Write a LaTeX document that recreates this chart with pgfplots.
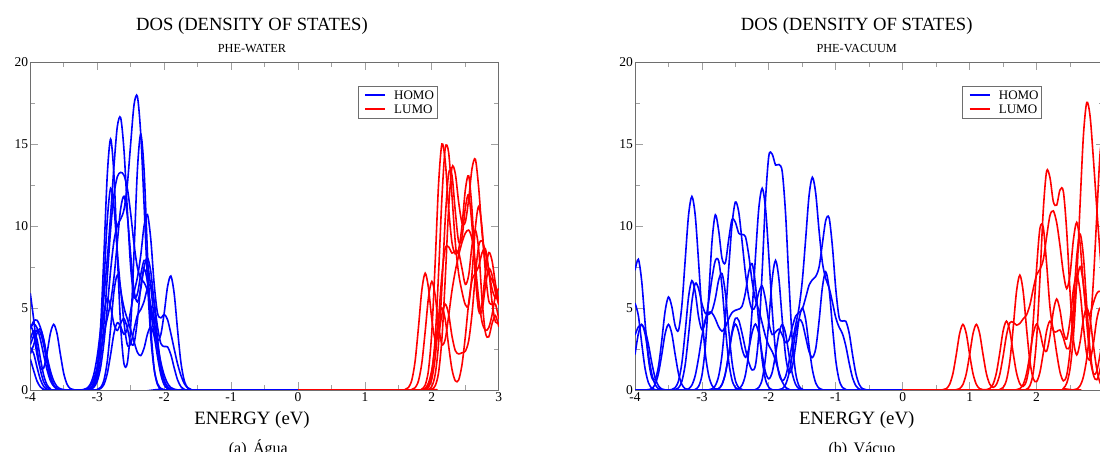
\documentclass[border=0pt]{standalone}
\usepackage{pgfplots}
\pgfplotsset{compat=1.18}
\usepackage{fontspec}
\setmainfont{Liberation Serif}

\definecolor{frame}{RGB}{110,110,110}
\definecolor{tickc}{RGB}{160,160,160}

\pgfplotsset{
  dosaxis/.style={
    scale only axis, width=468.5pt, height=328pt,
    xmin=-4, xmax=3, ymin=0, ymax=20,
    xtick={-4,-3,-2,-1,0,1,2,3}, xticklabels={-4,-3,-2,-1,0,1,2,3},
    ytick={0,5,10,15,20}, yticklabels={0,5,10,15,20},
    minor xtick={-3.5,-2.5,-1.5,-0.5,0.5,1.5,2.5},
    minor ytick={2.5,7.5,12.5,17.5},
    tick align=inside, major tick length=8pt, minor tick length=5pt,
    axis line style={draw=frame, line width=0.9pt},
    every tick/.style={tickc, line width=0.8pt},
    tick label style={font=\fontsize{13.5}{14}\selectfont},
    xticklabel style={inner sep=2pt},
    yticklabel style={inner sep=2pt},
  },
  homo/.style={blue, line width=1.6pt, smooth, forget plot},
  lumo/.style={red, line width=1.6pt, smooth, forget plot},
}

% legend box drawn at a given left edge (in pt)
\newcommand{\doslegend}[1]{%
  \draw[frame, line width=0.6pt, fill=white] (#1,366) rectangle ++(79,-32);
  \draw[blue, line width=1.6pt] (#1+7,357) -- ++(20,0);
  \draw[red, line width=1.6pt] (#1+7,343) -- ++(20,0);
  \node[anchor=base west, inner sep=0pt, font=\fontsize{13}{13}\selectfont] at (#1+36,352.7) {HOMO};
  \node[anchor=base west, inner sep=0pt, font=\fontsize{13}{13}\selectfont] at (#1+36,338.7) {LUMO};
}

\begin{document}
\begin{tikzpicture}[x=1pt, y=1pt]

% ---------------- (a) water ----------------
\begin{axis}[dosaxis, at={(30.3pt,62pt)}, anchor=south west]
% HOMO
\addplot[homo] coordinates {(-4,5.9)(-3.95,4.33)(-3.9,2.58)(-3.85,1.25)(-3.8,0.5)(-3.75,0.16)(-3.7,0.04)(-3.65,0)(-3.2,0)(-3.15,0.01)(-3.1,0.04)(-3.05,0.17)(-3.0,0.53)(-2.95,1.37)(-2.9,2.89)(-2.85,5.01)(-2.8,7.29)(-2.75,9.08)(-2.7,10.03)(-2.65,10.42)(-2.6,11.0)(-2.55,12.53)(-2.5,15.03)(-2.45,17.39)(-2.4,17.9)(-2.35,15.63)(-2.3,11.31)(-2.25,6.71)(-2.2,3.23)(-2.15,1.28)(-2.1,0.41)(-2.05,0.1)(-2.0,0.02)(-1.95,0)(0,0)};
\addplot[homo] coordinates {(-4,3.71)(-3.95,4.2)(-3.9,4.25)(-3.85,3.83)(-3.8,3.03)(-3.75,2.05)(-3.7,1.17)(-3.65,0.55)(-3.6,0.21)(-3.55,0.07)(-3.5,0.02)(-3.45,0)(-3.25,0)(-3.2,0.03)(-3.15,0.12)(-3.1,0.38)(-3.05,0.97)(-3.0,2.06)(-2.95,3.69)(-2.9,5.69)(-2.85,7.98)(-2.8,10.67)(-2.75,13.64)(-2.7,16.06)(-2.65,16.6)(-2.6,14.62)(-2.55,10.95)(-2.5,7.48)(-2.45,5.7)(-2.4,5.86)(-2.35,7.03)(-2.3,7.9)(-2.25,7.67)(-2.2,6.3)(-2.15,4.37)(-2.1,2.56)(-2.05,1.28)(-2.0,0.54)(-1.95,0.19)(-1.9,0.05)(-1.85,0.01)(-1.8,0)(0,0)};
\addplot[homo] coordinates {(-4,3.09)(-3.95,3.6)(-3.9,3.09)(-3.85,1.94)(-3.8,0.9)(-3.75,0.31)(-3.7,0.08)(-3.65,0)(-3.2,0)(-3.15,0.01)(-3.1,0.06)(-3.05,0.32)(-3.0,1.3)(-2.95,3.81)(-2.9,8.25)(-2.85,13.1)(-2.8,15.3)(-2.75,13.1)(-2.7,8.3)(-2.65,3.9)(-2.6,1.6)(-2.55,1.65)(-2.5,3.9)(-2.45,8.4)(-2.4,13.4)(-2.35,15.6)(-2.3,13.4)(-2.25,8.4)(-2.2,3.9)(-2.15,1.33)(-2.1,0.33)(-2.05,0.06)(-2.0,0)(0,0)};
\addplot[homo] coordinates {(-4,3.79)(-3.95,4.03)(-3.9,3.79)(-3.85,3.09)(-3.8,2.14)(-3.75,1.24)(-3.7,0.57)(-3.65,0.23)(-3.6,0.07)(-3.55,0.02)(-3.5,0)(-3.2,0)(-3.15,0.01)(-3.1,0.06)(-3.05,0.24)(-3.0,0.76)(-2.95,1.92)(-2.9,4.01)(-2.85,6.86)(-2.8,9.78)(-2.75,11.91)(-2.7,13.0)(-2.65,13.27)(-2.6,13.09)(-2.55,12.29)(-2.5,10.75)(-2.45,8.89)(-2.4,7.47)(-2.35,6.81)(-2.3,6.55)(-2.25,6.07)(-2.2,5.17)(-2.15,3.99)(-2.1,2.76)(-2.05,1.7)(-2.0,0.91)(-1.95,0.41)(-1.9,0.15)(-1.85,0.05)(-1.8,0.01)(-1.75,0)(0,0)};
\addplot[homo] coordinates {(-4,2.75)(-3.95,3.3)(-3.9,3.65)(-3.85,3.5)(-3.8,2.74)(-3.75,1.66)(-3.7,0.75)(-3.65,0.26)(-3.6,0.06)(-3.55,0)(-3.15,0)(-3.1,0.05)(-3.05,0.25)(-3.0,1.02)(-2.95,3.0)(-2.9,6.47)(-2.85,10.35)(-2.8,12.3)(-2.75,11.16)(-2.7,8.4)(-2.65,6.16)(-2.6,5.02)(-2.55,4.33)(-2.5,3.67)(-2.45,2.95)(-2.4,2.3)(-2.35,2.1)(-2.3,2.55)(-2.25,3.4)(-2.2,3.85)(-2.15,3.3)(-2.1,2.05)(-2.05,0.95)(-2.0,0.32)(-1.95,0.08)(-1.9,0.02)(-1.85,0)(0,0)};
\addplot[homo] coordinates {(-4,2.2)(-3.95,2.75)(-3.9,3.46)(-3.85,3.73)(-3.8,3.1)(-3.75,1.94)(-3.7,0.9)(-3.65,0.31)(-3.6,0.08)(-3.55,0.01)(-3.5,0)(-3.25,0)(-3.2,0.02)(-3.15,0.08)(-3.1,0.27)(-3.05,0.67)(-3.0,1.39)(-2.95,2.38)(-2.9,3.44)(-2.85,4.37)(-2.8,5.36)(-2.75,6.86)(-2.7,8.99)(-2.65,11.05)(-2.6,11.81)(-2.55,10.62)(-2.5,8.24)(-2.45,6.07)(-2.4,5.37)(-2.35,6.16)(-2.3,7.49)(-2.25,8.06)(-2.2,7.22)(-2.15,5.29)(-2.1,3.17)(-2.05,1.53)(-2.0,0.61)(-1.95,0.19)(-1.9,0.05)(-1.85,0.01)(-1.8,0)(0,0)};
\addplot[homo] coordinates {(-4,4.0)(-3.95,3.43)(-3.9,2.16)(-3.85,1.34)(-3.8,1.34)(-3.75,2.24)(-3.7,3.45)(-3.65,4.0)(-3.6,3.43)(-3.55,2.16)(-3.5,1.0)(-3.45,0.34)(-3.4,0.08)(-3.35,0.02)(-3.3,0)(-3.05,0)(-3.0,0.02)(-2.95,0.08)(-2.9,0.34)(-2.85,1.0)(-2.8,2.16)(-2.75,3.45)(-2.7,4.1)(-2.65,3.86)(-2.6,3.4)(-2.55,3.74)(-2.5,4.84)(-2.45,5.95)(-2.4,6.85)(-2.35,8.2)(-2.3,10.0)(-2.25,10.7)(-2.2,9.2)(-2.15,6.5)(-2.1,4.7)(-2.05,4.4)(-2.0,4.6)(-1.95,4.3)(-1.9,3.45)(-1.85,2.5)(-1.8,1.6)(-1.75,0.9)(-1.7,0.4)(-1.65,0.13)(-1.6,0.03)(-1.55,0)(0,0)};
\addplot[homo] coordinates {(-4,2.6)(-3.95,2.23)(-3.9,1.4)(-3.85,0.65)(-3.8,0.22)(-3.75,0.05)(-3.7,0)(-3.2,0)(-3.15,0.02)(-3.1,0.12)(-3.05,0.47)(-3.0,1.37)(-2.95,2.96)(-2.9,4.73)(-2.85,5.59)(-2.8,5.07)(-2.75,4.01)(-2.7,3.63)(-2.65,4.07)(-2.6,4.35)(-2.55,3.77)(-2.5,2.87)(-2.45,2.84)(-2.4,4.25)(-2.35,6.3)(-2.3,7.37)(-2.25,6.62)(-2.2,4.88)(-2.15,3.47)(-2.1,2.99)(-2.05,3.38)(-2.0,4.67)(-1.95,6.28)(-1.9,6.95)(-1.85,5.87)(-1.8,3.68)(-1.75,1.69)(-1.7,0.58)(-1.65,0.14)(-1.6,0.03)(-1.55,0)(0,0)};
\addplot[homo] coordinates {(-4,1.89)(-3.95,1.19)(-3.9,0.55)(-3.85,0.19)(-3.8,0.05)(-3.75,0)(-3.05,0)(-3.0,0.03)(-2.95,0.15)(-2.9,0.6)(-2.85,1.74)(-2.8,3.77)(-2.75,6.0)(-2.7,7.0)(-2.65,6.1)(-2.6,4.1)(-2.55,2.75)(-2.5,2.8)(-2.45,3.7)(-2.4,4.55)(-2.35,4.9)(-2.3,5.4)(-2.25,6.2)(-2.2,6.4)(-2.15,5.43)(-2.1,3.87)(-2.05,2.84)(-2.0,2.65)(-1.95,2.63)(-1.9,2.16)(-1.85,1.35)(-1.8,0.62)(-1.75,0.21)(-1.7,0.05)(-1.65,0)(0,0)};
% LUMO
\addplot[lumo] coordinates {(0,0)(1.55,0)(1.6,0.03)(1.65,0.15)(1.7,0.6)(1.75,1.77)(1.8,3.83)(1.85,6.08)(1.9,7.12)(1.95,6.2)(2.0,4.27)(2.05,3.06)(2.1,3.4)(2.15,4.6)(2.2,5.23)(2.25,4.63)(2.3,3.3)(2.35,2.4)(2.4,2.2)(2.45,2.27)(2.5,2.37)(2.55,3.0)(2.6,4.65)(2.65,7.0)(2.7,8.8)(2.75,9.1)(2.8,8.4)(2.85,7.3)(2.9,6.15)(2.95,5.6)(3.0,5.6)};
\addplot[lumo] coordinates {(0,0)(1.65,0)(1.7,0.03)(1.75,0.14)(1.8,0.56)(1.85,1.64)(1.9,3.56)(1.95,5.66)(2.0,6.62)(2.05,5.75)(2.1,3.94)(2.15,2.78)(2.2,3.1)(2.25,4.5)(2.3,6.05)(2.35,7.25)(2.4,8.2)(2.45,9.0)(2.5,9.56)(2.55,9.75)(2.6,9.2)(2.65,7.56)(2.7,5.55)(2.75,4.14)(2.8,3.65)(2.85,3.8)(2.9,4.6)(2.95,5.76)(3.0,6.2)};
\addplot[lumo] coordinates {(0,0)(1.8,0)(1.85,0.06)(1.9,0.3)(1.95,1.23)(2.0,3.6)(2.05,7.83)(2.1,12.55)(2.15,15.0)(2.2,13.95)(2.25,11.1)(2.3,9.0)(2.35,8.3)(2.4,8.57)(2.45,10.0)(2.5,12.2)(2.55,13.06)(2.6,10.96)(2.65,7.34)(2.7,4.85)(2.75,4.85)(2.8,6.34)(2.85,7.4)(2.9,7.0)(2.95,5.93)(3.0,5.2)};
\addplot[lumo] coordinates {(0,0)(1.85,0)(1.9,0.05)(1.95,0.26)(2.0,1.08)(2.05,3.2)(2.1,7.1)(2.15,11.7)(2.2,14.76)(2.25,14.5)(2.3,11.86)(2.35,9.0)(2.4,7.1)(2.45,6.0)(2.5,5.2)(2.55,5.2)(2.6,7.1)(2.65,9.9)(2.7,11.2)(2.75,9.86)(2.8,7.2)(2.85,5.44)(2.9,5.23)(2.95,5.23)(3.0,4.33)};
\addplot[lumo] coordinates {(0,0)(1.95,0)(2.0,0.05)(2.05,0.26)(2.1,1.06)(2.15,3.12)(2.2,6.8)(2.25,11.03)(2.3,13.56)(2.35,13.2)(2.4,11.46)(2.45,10.2)(2.5,10.24)(2.55,11.64)(2.6,13.5)(2.65,14.07)(2.7,12.3)(2.75,9.57)(2.8,7.74)(2.85,7.06)(2.9,6.7)(2.95,6.2)(3.0,5.25)};
\addplot[lumo] coordinates {(0,0)(1.9,0)(1.95,0.04)(2.0,0.23)(2.05,0.96)(2.1,2.82)(2.15,6.27)(2.2,10.43)(2.25,13.2)(2.3,13.1)(2.35,10.9)(2.4,9.04)(2.45,9.3)(2.5,11.1)(2.55,11.9)(2.6,10.0)(2.65,6.9)(2.7,4.86)(2.75,5.3)(2.8,7.17)(2.85,8.38)(2.9,7.86)(2.95,6.47)(3.0,5.42)};
\addplot[lumo] coordinates {(0,0)(1.85,0)(1.9,0.03)(1.95,0.17)(2.0,0.68)(2.05,1.99)(2.1,4.34)(2.15,7.0)(2.2,8.64)(2.25,8.73)(2.3,8.35)(2.35,8.46)(2.4,8.38)(2.45,7.41)(2.5,6.44)(2.55,7.0)(2.6,8.8)(2.65,9.75)(2.7,8.55)(2.75,5.5)(2.8,3.5)(2.85,3.24)(2.9,4.06)(2.95,4.54)(3.0,3.86)};
\addplot[lumo] coordinates {(0,0)(1.8,0)(1.85,0.02)(1.9,0.1)(1.95,0.43)(2.0,1.25)(2.05,2.7)(2.1,4.29)(2.15,5.0)(2.2,4.29)(2.25,2.7)(2.3,1.27)(2.35,0.56)(2.4,0.61)(2.45,1.54)(2.5,3.26)(2.55,5.31)(2.6,6.68)(2.65,7.13)(2.7,7.54)(2.75,8.37)(2.8,8.6)(2.85,7.33)(2.9,5.33)(2.95,4.15)(3.0,4.1)};
\end{axis}

% ---------------- (b) vacuum ----------------
\begin{axis}[dosaxis, at={(635pt,62pt)}, anchor=south west]
% HOMO
\addplot[homo] coordinates {(-4,7.3)(-3.95,7.97)(-3.9,6.64)(-3.85,4.13)(-3.8,1.91)(-3.75,0.77)(-3.7,0.64)(-3.65,1.42)(-3.6,3.02)(-3.55,4.81)(-3.5,5.67)(-3.45,5.08)(-3.4,3.92)(-3.35,3.64)(-3.3,5.14)(-3.25,7.93)(-3.2,10.66)(-3.15,11.8)(-3.1,10.64)(-3.05,7.81)(-3.0,4.66)(-2.95,2.25)(-2.9,0.9)(-2.85,0.28)(-2.8,0.07)(-2.75,0.01)(-2.7,0)(-1.9,0)(-1.85,0.02)(-1.8,0.08)(-1.75,0.34)(-1.7,1.0)(-1.65,2.16)(-1.6,3.53)(-1.55,4.3)(-1.5,4.08)(-1.45,3.22)(-1.4,2.35)(-1.35,1.98)(-1.3,2.52)(-1.25,4.2)(-1.2,6.27)(-1.15,7.2)(-1.1,6.17)(-1.05,3.88)(-1.0,1.79)(-0.95,0.61)(-0.9,0.15)(-0.85,0.03)(-0.8,0)(0,0)};
\addplot[homo] coordinates {(-4,5.3)(-3.95,4.54)(-3.9,2.86)(-3.85,1.32)(-3.8,0.45)(-3.75,0.11)(-3.7,0.02)(-3.65,0)(-3.5,0)(-3.45,0.03)(-3.4,0.14)(-3.35,0.56)(-3.3,1.64)(-3.25,3.56)(-3.2,5.67)(-3.15,6.67)(-3.1,5.96)(-3.05,4.46)(-3.0,3.68)(-2.95,4.16)(-2.9,5.38)(-2.85,6.8)(-2.8,7.89)(-2.75,7.87)(-2.7,6.3)(-2.65,3.84)(-2.6,1.74)(-2.55,0.6)(-2.5,0.15)(-2.45,0.03)(-2.4,0)(0,0)};
\addplot[homo] coordinates {(-4,3.35)(-3.95,3.85)(-3.9,3.97)(-3.85,3.65)(-3.8,2.79)(-3.75,1.67)(-3.7,0.75)(-3.65,0.26)(-3.6,0.06)(-3.55,0.01)(-3.5,0)(-3.15,0)(-3.1,0.04)(-3.05,0.22)(-3.0,0.89)(-2.95,2.61)(-2.9,5.66)(-2.85,9.03)(-2.8,10.68)(-2.75,9.72)(-2.7,8.03)(-2.65,7.76)(-2.6,9.18)(-2.55,10.4)(-2.5,10.22)(-2.45,9.56)(-2.4,9.48)(-2.35,9.35)(-2.3,8.21)(-2.25,6.62)(-2.2,5.51)(-2.15,4.87)(-2.1,4.08)(-2.05,3.27)(-2.0,2.71)(-1.95,2.34)(-1.9,1.79)(-1.85,1.1)(-1.8,0.5)(-1.75,0.17)(-1.7,0.04)(-1.65,0)(0,0)};
\addplot[homo] coordinates {(-4,2.16)(-3.95,3.43)(-3.9,4.0)(-3.85,3.43)(-3.8,2.16)(-3.75,1.0)(-3.7,0.34)(-3.65,0.08)(-3.6,0.02)(-3.55,0)(-3.3,0)(-3.25,0.01)(-3.2,0.07)(-3.15,0.3)(-3.1,0.88)(-3.05,1.96)(-3.0,3.27)(-2.95,4.3)(-2.9,4.73)(-2.85,4.7)(-2.8,4.34)(-2.75,3.85)(-2.7,3.58)(-2.65,3.85)(-2.6,4.34)(-2.55,4.72)(-2.5,4.86)(-2.45,4.93)(-2.4,5.11)(-2.35,5.94)(-2.3,7.22)(-2.25,7.7)(-2.2,6.41)(-2.15,3.99)(-2.1,1.84)(-2.05,0.63)(-2.0,0.16)(-1.95,0.02)(-1.9,0)(0,0)};
\addplot[homo] coordinates {(-4,0)(-2.85,0)(-2.8,0.02)(-2.75,0.08)(-2.7,0.34)(-2.65,1.0)(-2.6,2.19)(-2.55,3.56)(-2.5,4.37)(-2.45,4.24)(-2.4,3.45)(-2.35,2.5)(-2.3,1.68)(-2.25,1.22)(-2.2,1.51)(-2.15,3.43)(-2.1,7.23)(-2.05,11.6)(-2.0,14.29)(-1.95,14.38)(-1.9,13.72)(-1.85,13.75)(-1.8,13.31)(-1.75,10.73)(-1.7,6.63)(-1.65,3.03)(-1.6,1.04)(-1.55,0.25)(-1.5,0.05)(-1.45,0)(0,0)};
\addplot[homo] coordinates {(-4,0)(-2.55,0)(-2.5,0.01)(-2.45,0.07)(-2.4,0.3)(-2.35,0.93)(-2.3,2.35)(-2.25,4.86)(-2.2,8.14)(-2.15,11.09)(-2.1,12.3)(-2.05,11.09)(-2.0,8.14)(-1.95,4.86)(-1.9,2.36)(-1.85,0.99)(-1.8,0.56)(-1.75,0.83)(-1.7,1.71)(-1.65,2.88)(-1.6,3.97)(-1.55,5.01)(-1.5,6.68)(-1.45,9.22)(-1.4,11.83)(-1.35,12.97)(-1.3,11.99)(-1.25,9.72)(-1.2,7.77)(-1.15,6.79)(-1.1,6.23)(-1.05,5.35)(-1.0,4.4)(-0.95,3.83)(-0.9,3.43)(-0.85,2.68)(-0.8,1.64)(-0.75,0.75)(-0.7,0.26)(-0.65,0.06)(-0.6,0.01)(-0.55,0)(0,0)};
\addplot[homo] coordinates {(-4,0)(-2.95,0)(-2.9,0.01)(-2.85,0.07)(-2.8,0.27)(-2.75,0.85)(-2.7,2.14)(-2.65,4.42)(-2.6,7.41)(-2.55,10.1)(-2.5,11.46)(-2.45,10.85)(-2.4,9.05)(-2.35,7.12)(-2.3,5.65)(-2.25,4.91)(-2.2,5.12)(-2.15,5.97)(-2.1,6.34)(-2.05,5.5)(-2.0,4.1)(-1.95,3.38)(-1.9,3.53)(-1.85,3.71)(-1.8,3.36)(-1.75,2.89)(-1.7,3.05)(-1.65,3.84)(-1.6,4.5)(-1.55,4.71)(-1.5,4.94)(-1.45,5.63)(-1.4,6.38)(-1.35,6.72)(-1.3,6.92)(-1.25,7.49)(-1.2,8.93)(-1.15,10.34)(-1.1,10.5)(-1.05,8.73)(-1.0,6.15)(-0.95,4.42)(-0.9,4.2)(-0.85,4.19)(-0.8,3.47)(-0.75,2.16)(-0.7,1.0)(-0.65,0.34)(-0.6,0.08)(-0.55,0.02)(-0.5,0)(0,0)};
\addplot[homo] coordinates {(-4,0)(-2.25,0)(-2.2,0.03)(-2.15,0.16)(-2.1,0.64)(-2.05,1.97)(-2.0,4.26)(-1.95,6.77)(-1.9,7.9)(-1.85,6.77)(-1.8,4.28)(-1.75,2.08)(-1.7,1.07)(-1.65,1.41)(-1.6,2.73)(-1.55,4.29)(-1.5,5.0)(-1.45,4.29)(-1.4,2.7)(-1.35,1.25)(-1.3,0.43)(-1.25,0.11)(-1.2,0.02)(-1.15,0)(0,0)};
\addplot[homo] coordinates {(-4,0)(-3.85,0)(-3.8,0.02)(-3.75,0.08)(-3.7,0.34)(-3.65,1.0)(-3.6,2.16)(-3.55,3.43)(-3.5,4.0)(-3.45,3.43)(-3.4,2.16)(-3.35,1.0)(-3.3,0.34)(-3.25,0.08)(-3.2,0.02)(-3.15,0)(-2.85,0)(-2.8,0.02)(-2.75,0.08)(-2.7,0.34)(-2.65,1.0)(-2.6,2.16)(-2.55,3.43)(-2.5,4.02)(-2.45,3.51)(-2.4,2.5)(-2.35,2.0)(-2.3,2.5)(-2.25,3.51)(-2.2,4.02)(-2.15,3.43)(-2.1,2.18)(-2.05,1.08)(-2.0,0.68)(-1.95,1.08)(-1.9,2.18)(-1.85,3.43)(-1.8,4.0)(-1.75,3.43)(-1.7,2.16)(-1.65,1.0)(-1.6,0.34)(-1.55,0.08)(-1.5,0.02)(-1.45,0)(0,0)};
\addplot[homo] coordinates {(-4,0)(-3.45,0)(-3.4,0.02)(-3.35,0.13)(-3.3,0.53)(-3.25,1.54)(-3.2,3.35)(-3.15,5.38)(-3.1,6.5)(-3.05,6.18)(-3.0,5.26)(-2.95,4.68)(-2.9,4.61)(-2.85,4.82)(-2.8,5.58)(-2.75,6.7)(-2.7,7.1)(-2.65,5.9)(-2.6,3.68)(-2.55,1.69)(-2.5,0.58)(-2.45,0.14)(-2.4,0.03)(-2.35,0)(0,0)};
% LUMO
\addplot[lumo] coordinates {(0,0)(0.55,0)(0.6,0.02)(0.65,0.08)(0.7,0.34)(0.75,1.0)(0.8,2.16)(0.85,3.43)(0.9,4.0)(0.95,3.43)(1.0,2.16)(1.05,1.0)(1.1,0.34)(1.15,0.08)(1.2,0.02)(1.25,0.02)(1.3,0.09)(1.35,0.36)(1.4,1.05)(1.45,2.26)(1.5,3.6)(1.55,4.2)(1.6,3.6)(1.65,2.26)(1.7,1.05)(1.75,0.38)(1.8,0.22)(1.85,0.58)(1.9,1.77)(1.95,4.18)(2.0,7.4)(2.05,9.85)(2.1,9.91)(2.15,7.7)(2.2,5.05)(2.25,3.66)(2.3,3.56)(2.35,3.66)(2.4,3.18)(2.45,2.53)(2.5,2.74)(2.55,4.34)(2.6,6.5)(2.65,7.51)(2.7,6.43)(2.75,4.06)(2.8,1.95)(2.85,0.98)(2.9,1.16)(2.95,2.19)(3.0,3.43)};
\addplot[lumo] coordinates {(0,0)(0.75,0)(0.8,0.02)(0.85,0.08)(0.9,0.34)(0.95,1.0)(1.0,2.16)(1.05,3.43)(1.1,4.0)(1.15,3.43)(1.2,2.16)(1.25,1.0)(1.3,0.36)(1.35,0.16)(1.4,0.34)(1.45,0.95)(1.5,2.06)(1.55,3.33)(1.6,4.1)(1.65,4.13)(1.7,3.96)(1.75,4.06)(1.8,4.34)(1.85,4.58)(1.9,5.18)(1.95,6.16)(2.0,7.02)(2.05,7.36)(2.1,7.94)(2.15,9.34)(2.2,10.64)(2.25,10.92)(2.3,10.21)(2.35,8.79)(2.4,7.15)(2.45,6.18)(2.5,7.04)(2.55,9.15)(2.6,10.22)(2.65,8.93)(2.7,6.41)(2.75,4.74)(2.8,4.66)(2.85,5.33)(2.9,5.89)(2.95,6.02)(3.0,5.5)};
\addplot[lumo] coordinates {(0,0)(1.4,0)(1.45,0.03)(1.5,0.15)(1.55,0.6)(1.6,1.74)(1.65,3.77)(1.7,6.0)(1.75,7.0)(1.8,6.0)(1.85,3.77)(1.9,1.76)(1.95,0.69)(2.0,0.51)(2.05,1.08)(2.1,2.26)(2.15,3.6)(2.2,4.2)(2.25,3.6)(2.3,2.26)(2.35,1.09)(2.4,0.56)(2.45,0.9)(2.5,2.39)(2.55,5.12)(2.6,8.14)(2.65,9.5)(2.7,8.14)(2.75,5.12)(2.8,2.39)(2.85,0.92)(2.9,0.63)(2.95,1.29)(3.0,2.7)};
\addplot[lumo] coordinates {(0,0)(1.8,0)(1.85,0.05)(1.9,0.26)(1.95,1.06)(2.0,3.12)(2.05,6.79)(2.1,10.96)(2.15,13.34)(2.2,12.95)(2.25,11.49)(2.3,11.27)(2.35,12.2)(2.4,12.11)(2.45,9.69)(2.5,5.98)(2.55,3.09)(2.6,2.14)(2.65,2.92)(2.7,4.33)(2.75,5.0)(2.8,4.29)(2.85,2.7)(2.9,1.25)(2.95,0.43)(3.0,0.11)};
\addplot[lumo] coordinates {(0,0)(2.35,0)(2.4,0.1)(2.45,0.41)(2.5,1.3)(2.55,3.26)(2.6,6.76)(2.65,11.32)(2.7,15.53)(2.75,17.53)(2.8,16.67)(2.85,14.02)(2.9,11.05)(2.95,8.26)(3.0,5.59)};
\addplot[lumo] coordinates {(0,0)(2.5,0)(2.55,0.01)(2.6,0.06)(2.65,0.26)(2.7,0.81)(2.75,1.94)(2.8,3.85)(2.85,6.74)(2.9,10.66)(2.95,14.48)(3.0,15.75)};
\addplot[lumo] coordinates {(0,0)(1.65,0)(1.7,0.02)(1.75,0.08)(1.8,0.34)(1.85,1.0)(1.9,2.16)(1.95,3.43)(2.0,4.02)(2.05,3.55)(2.1,2.63)(2.15,2.37)(2.2,3.3)(2.25,4.79)(2.3,5.55)(2.35,4.86)(2.4,3.56)(2.45,3.11)(2.5,4.24)(2.55,6.12)(2.6,7.02)(2.65,6.02)(2.7,3.88)(2.75,2.17)(2.8,1.85)(2.85,2.85)(2.9,4.32)(2.95,5.0)(3.0,4.29)};
\end{axis}

% legends
\doslegend{358}
\doslegend{962.7}

% titles, subtitles, axis labels and captions
\node[anchor=base, font=\fontsize{18.6}{20}\selectfont] at (252,421) {DOS (DENSITY OF STATES)};
\node[anchor=base, font=\fontsize{12.3}{13}\selectfont] at (252,399.3) {PHE-WATER};
\node[anchor=base, font=\fontsize{18.8}{20}\selectfont] at (252,27.3) {ENERGY (eV)};
\node[anchor=base, font=\fontsize{16}{17}\selectfont] at (258.3,-2) {(a)\hspace{6.5pt}Água};

\node[anchor=base, font=\fontsize{18.6}{20}\selectfont] at (856.7,421) {DOS (DENSITY OF STATES)};
\node[anchor=base, font=\fontsize{12.3}{13}\selectfont] at (856.7,399.3) {PHE-VACUUM};
\node[anchor=base, font=\fontsize{18.8}{20}\selectfont] at (856.7,27.3) {ENERGY (eV)};
\node[anchor=base, font=\fontsize{16}{17}\selectfont] at (862,-2) {(b)\hspace{6.5pt}Vácuo};

\pgfresetboundingbox
\path[use as bounding box] (0,0) rectangle (1100,452);
\end{tikzpicture}
\end{document}
